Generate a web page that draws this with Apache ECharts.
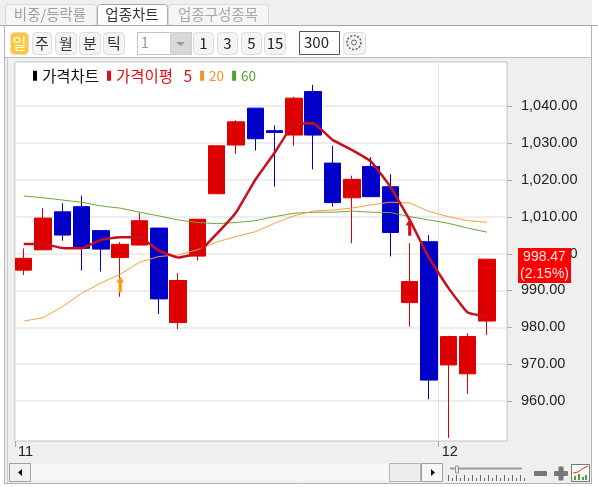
<!DOCTYPE html>
<html>
<head>
<meta charset="utf-8">
<style>
  html, body { margin: 0; padding: 0; background: #fff; }
  #chart { width: 598px; height: 487px; }
</style>
<script src="https://cdn.jsdelivr.net/npm/echarts@6/dist/echarts.min.js"></script>
</head>
<body>
<div id="chart"></div>
<script>
const opens  = [995.5, 1001, 1011.3, 1012.7, 1006.2, 998.9, 1002.3, 1006.9, 981.3, 999.3, 1016.2, 1029.4, 1039.4, 1033.3, 1032.1, 1043.9, 1024.5, 1015.1, 1023.6, 1018.1, 986.7, 1003.2, 969.8, 967.4, 981.7]
const closes = [998.7, 1009.6, 1005, 1001.4, 1001.2, 1002.5, 1008.9, 987.7, 992.7, 1009.3, 1029.2, 1035.7, 1031.1, 1032.8, 1042.1, 1032.1, 1013.8, 1020.1, 1015.4, 1005.7, 992.4, 965.7, 977.5, 977.5, 998.47]
const lows   = [994.2, 1001, 1003.5, 995.4, 995.1, 988.3, 1002.3, 983.6, 979.5, 998.1, 1016.2, 1027, 1027.9, 1018.1, 1029.2, 1022.8, 1012.7, 1002.8, 1015.4, 999.2, 980.2, 960.5, 950, 962, 977.9]
const highs  = [1001.4, 1012.3, 1013.6, 1015.7, 1006.2, 1003.1, 1011.1, 1006.9, 994.7, 1009.3, 1029.2, 1036.1, 1039.4, 1034.7, 1042.5, 1045.7, 1029.2, 1021.1, 1026.1, 1021.5, 1002.8, 1005, 977.7, 978.4, 998.47]
const ma5  = [1002.6, 1002.6, 1001.5, 1001.4, 1003.7, 1004.4, 1004.4, 1000.8, 998.9, 1000.1, 1005.3, 1011.1, 1020, 1027.3, 1035.1, 1035.3, 1030.8, 1028.1, 1024.9, 1018.1, 1009.1, 998.8, 990.7, 984, 982.9]
const ma20 = [981.7, 982.6, 985.6, 989.2, 992, 994.4, 997.6, 999.2, 999.6, 1001, 1003.1, 1004.6, 1005.9, 1008.2, 1010.2, 1011.5, 1011.8, 1012.3, 1013.2, 1013.9, 1013.7, 1011.4, 1010, 1008.9, 1008.5]
const ma60 = [1015.6, 1015.1, 1014.5, 1013.9, 1012.9, 1012.3, 1011.2, 1010.2, 1009.1, 1008.4, 1008.1, 1008.4, 1008.9, 1010, 1010.9, 1011.2, 1011.2, 1011.5, 1011.2, 1011.1, 1010, 1009.1, 1008.2, 1006.9, 1005.8]
const yTicks = [960, 970, 980, 990, 1000, 1010, 1020, 1030, 1040]
const monthPos = [-0.45, 21.5]
const monthLabels = ['11', '12']
const orangeArrow = [[5, 991.6]]
const redArrow = [[20, 1007.1]]
const lastPrice = '998.47'
const lastChange = '(2.15%)'

const KR = '"Noto Sans CJK KR", sans-serif'
const NUM = '"Liberation Sans", sans-serif'
const ARROW = 'path://M5 0 L10 6 L7 6 L7 16 L3 16 L3 6 L0 6 Z'

function zip(a) { return a.map((v, i) => [i, v]) }

function box(x, y, w, h, fill, stroke, r) {
    return {type: 'rect', z: 100, shape: {x, y, width: w, height: h, r: r || 0},
        style: {fill: fill || 'transparent', stroke: stroke || null, lineWidth: 1}}
}
function label(x, y, s, color, size, align, family) {
    return {type: 'text', z: 101, x, y, style: {text: s, fill: color, align: align || 'center', verticalAlign: 'middle',
        font: (size || 14) + 'px ' + (family || KR)}}
}
function seg(x1, y1, x2, y2, color, w) {
    return {type: 'line', z: 100, shape: {x1, y1, x2, y2}, style: {stroke: color, lineWidth: w || 1}}
}
function button(x, w, s, fill, color) {
    return [box(x + .5, 32.5, w, 22, fill || '#f4f4f4', '#dcdcdc', 4), label(x + w / 2 + .5, 43.5, s, color || '#333', 15)]
}

let chrome = [
    // tabs
    box(5.5, 4.5, 91, 21, '#f5f5f5', '#d8d8d8', 3),
    box(168.5, 4.5, 100, 21, '#f5f5f5', '#d8d8d8', 3),
    seg(0, 25.5, 598, 25.5, '#a8a8a8'),
    box(97.5, 4.5, 70, 22, '#fff', '#a8a8a8', 3),
    seg(98, 25.5, 167, 25.5, '#fff'),
    label(50, 14.5, '비중/등락률', '#a0a0a0', 14.5),
    label(132, 14.5, '업종차트', '#333', 14.5),
    label(218, 14.5, '업종구성종목', '#a8a8a8', 14.5),
    // toolbar background and frame
    box(0, 26, 598, 31, '#fff'),
    seg(4.5, 26, 4.5, 484, '#b4b4b4'),
    seg(7.5, 57, 7.5, 484, '#c8c8c8'),
    seg(5, 57.5, 592, 57.5, '#bcbcbc'),
    seg(591.5, 26, 591.5, 484, '#b4b4b4'),
    seg(5, 483.5, 592, 483.5, '#b4b4b4'),
    box(592, 0, 6, 487, '#fff'),
    seg(0, 25.5, 598, 25.5, '#a8a8a8'),
    box(0, 57.5, 4, 430, '#fff'),
    box(0, 484, 598, 3, '#fff'),
    // period buttons
    ...button(10, 18, '일', '#ffc838', '#fff'),
    ...button(32, 19, '주'),
    ...button(55, 21, '월'),
    ...button(79, 21, '분'),
    ...button(103, 21, '틱'),
    box(137.5, 32.5, 54, 22, '#fff', '#c4c4c4'),
    box(170.5, 32.5, 21, 22, '#d8d8d8', '#d0d0d0'),
    {type: 'polygon', z: 101, shape: {points: [[176, 42], [185, 42], [180.5, 46]]}, style: {fill: '#9a9a9a'}},
    label(145, 42.5, '1', '#999', 15),
    ...button(193, 20, '1', null, '#222'),
    ...button(217, 20, '3', null, '#222'),
    ...button(241, 20, '5', null, '#222'),
    ...button(264, 21, '15', null, '#222'),
    box(299.5, 31.5, 40, 23, '#fff', '#555'),
    label(304, 42, '300', '#222', 15, 'left'),
    box(343.5, 32.5, 22, 22, '#f4f4f4', '#dcdcdc', 4),
    {type: 'circle', z: 101, shape: {cx: 354, cy: 42.5, r: 7}, style: {fill: 'transparent', stroke: '#666', lineWidth: 1.6, lineDash: [2, 1.6]}},
    {type: 'circle', z: 101, shape: {cx: 354, cy: 42.5, r: 2.5}, style: {fill: 'transparent', stroke: '#666', lineWidth: 1}},
    // last price tag
    box(518, 248, 53, 35, '#ff0000'),
    label(544.5, 257, lastPrice, '#ffe8e8', 14, 'center', NUM),
    label(544.5, 274, lastChange, '#ffe8e8', 14, 'center', NUM),
    // scrollbar
    box(9.5, 463.5, 21, 18, '#f0f0f0', '#a0a0a0'),
    {type: 'polygon', z: 101, shape: {points: [[18, 472.5], [22, 469], [22, 476]]}, style: {fill: '#111'}},
    box(31, 464, 358, 17, '#f7f7f7'),
    box(389.5, 463.5, 31, 18, '#eeeeee', '#b4b4b4'),
    box(421.5, 463.5, 21, 18, '#f7f7f7', '#a0a0a0'),
    {type: 'polygon', z: 101, shape: {points: [[431, 469], [435, 472.5], [431, 476]]}, style: {fill: '#111'}},
    // zoom slider
    seg(450, 468.5, 522, 468.5, '#999', 2),
    box(455.5, 466, 3, 7, '#e8e8e8', '#999'),
    // zoom - / + and the small chart button
    box(534, 471, 13, 5, '#777', null, 1),
    box(554, 471, 14, 5, '#777', null, 1),
    box(558.5, 466.5, 5, 14, '#777', null, 1),
    box(571.5, 464.5, 18, 17, '#f6f6f6', '#777'),
    {type: 'polyline', z: 101, shape: {points: [[573, 473], [578, 472], [582, 469], [588, 466]]}, style: {fill: 'none', stroke: '#d04040', lineWidth: 1}},
    box(574, 476, 2, 4, '#4aa040'),
    box(578, 474, 2, 6, '#4aa040'),
    box(582, 477, 2, 3, '#4aa040'),
    box(585, 475, 2, 5, '#4aa040')
]
for (let i = 0; i < 20; i++) {
    chrome.push(seg(448.5 + i * 4, i % 2 ? 478 : 475, 448.5 + i * 4, 481, '#666'))
}

const chart = echarts.init(document.getElementById('chart'))
chart.setOption({
    animation: false,
    backgroundColor: '#efefef',
    textStyle: {fontFamily: KR},
    grid: {show: true, left: 15, right: 91, top: 62, bottom: 46, outerBoundsMode: 'none', backgroundColor: '#fff', borderColor: '#c4c4c4', borderWidth: 1},
    legend: {
        left: 33, top: 68, itemWidth: 4, itemHeight: 10, itemGap: 8, padding: 0, selectedMode: false,
        textStyle: {fontSize: 15.5, fontFamily: KR},
        data: [
            {name: '가격차트', icon: 'rect', itemStyle: {color: '#000', borderWidth: 0}, textStyle: {color: '#111'}},
            {name: '가격이평   5', icon: 'rect', itemStyle: {color: '#d81018'}, textStyle: {color: '#e01010'}},
            {name: '20', icon: 'rect', itemStyle: {color: '#f0952a'}, textStyle: {color: '#f0952a', fontSize: 13.5}},
            {name: '60', icon: 'rect', itemStyle: {color: '#5aa02c'}, textStyle: {color: '#5aa02c', fontSize: 13.5}}
        ]
    },
    xAxis: {
        type: 'value', min: -0.45, max: 25.04,
        axisLine: {show: false},
        axisTick: {show: true, length: 6, lineStyle: {color: '#aaa'}, customValues: monthPos},
        axisLabel: {
            customValues: monthPos, align: 'left', margin: 3, padding: [0, 0, 0, 3], color: '#222',
            fontFamily: NUM, fontSize: 14.5, hideOverlap: false,
            formatter: v => monthLabels[monthPos.indexOf(v)]
        },
        splitLine: {show: true, lineStyle: {color: '#e6e6e6', width: 1}}
    },
    yAxis: {
        type: 'value', position: 'right', min: 949.2, max: 1051.9, scale: true,
        axisLine: {show: false},
        axisTick: {show: false, customValues: yTicks},
        axisLabel: {
            customValues: yTicks, margin: 14, color: '#222', fontFamily: NUM, fontSize: 14.5, hideOverlap: false,
            formatter: v => v.toLocaleString('en-US', {minimumFractionDigits: 2})
        },
        splitLine: {show: true, lineStyle: {color: '#e8e8e8', width: 1.5}}
    },
    series: [
        {
            name: '가격차트', type: 'candlestick', barWidth: 17, z: 2, clip: true,
            encode: {x: 0, y: [1, 2, 3, 4]},
            itemStyle: {color: '#de0000', color0: '#0000c8', borderColor: '#de0000', borderColor0: '#0000c8', borderWidth: 1},
            data: opens.map((o, i) => [i, o, closes[i], lows[i], highs[i]])
        },
        {name: '60', type: 'line', z: 3, symbol: 'none', data: zip(ma60), lineStyle: {color: '#6aa83a', width: 1}},
        {name: '20', type: 'line', z: 3, symbol: 'none', data: zip(ma20), lineStyle: {color: '#f5a040', width: 1}},
        {name: '가격이평   5', type: 'line', z: 4, symbol: 'none', smooth: 0.1, data: zip(ma5), lineStyle: {color: '#c8101c', width: 2.5}},
        {name: 'up1', type: 'scatter', z: 5, symbol: ARROW, symbolSize: [8, 16], data: orangeArrow, itemStyle: {color: '#ff9a10', opacity: 1}},
        {name: 'up2', type: 'scatter', z: 5, symbol: ARROW, symbolSize: [8, 17], data: redArrow, itemStyle: {color: '#d81018', opacity: 1}}
    ]
})

// price ticks sit on the grey panel, right of the plot
for (const v of yTicks) {
    const y = Math.round(chart.convertToPixel({yAxisIndex: 0}, v)) + .5
    chrome.push(seg(507, y, 512, y, '#aaa'))
}
chart.setOption({graphic: chrome})
</script>
</body>
</html>
